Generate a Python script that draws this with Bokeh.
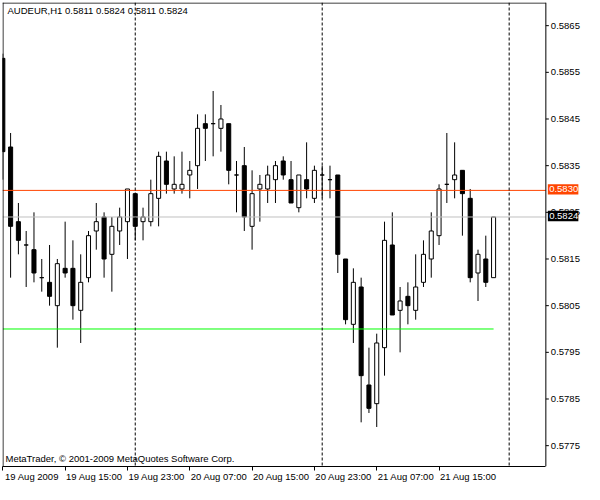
from bokeh.plotting import figure
from bokeh.models import (Range1d, FixedTicker, LinearAxis, Span, Label, ColumnDataSource)
from bokeh.embed import file_html
from bokeh.resources import INLINE
from bokeh.core.properties import value

# ---------------- data ----------------
chart_title = "AUDEUR,H1  0.5811 0.5824 0.5811 0.5824"
copyright_text = "MetaTrader, \u00a9 2001-2009 MetaQuotes Software Corp."

opens = [0.5858, 0.5839, 0.5823, 0.5818, 0.5817, 0.5811, 0.5810, 0.5805,
         0.5813, 0.5813, 0.5804, 0.5811, 0.5821, 0.5824, 0.5816, 0.5821,
         0.5823, 0.5829, 0.5823, 0.5823, 0.5828, 0.5836, 0.5830, 0.5830,
         0.5833, 0.5835, 0.5844, 0.5844, 0.5843, 0.5844, 0.5833, 0.5835,
         0.5822, 0.5830, 0.5830, 0.5832, 0.5836, 0.5832, 0.5826, 0.5832,
         0.5828, 0.5833, 0.5832, 0.5833, 0.5815, 0.5801, 0.5809, 0.5788,
         0.5784, 0.5796, 0.5818, 0.5804, 0.5807, 0.5804, 0.5810, 0.5815,
         0.5820, 0.5831, 0.5832, 0.5834, 0.5828, 0.5812, 0.5815, 0.5811]
highs = [0.5859, 0.5842, 0.5827, 0.5821, 0.5825, 0.5815, 0.5818, 0.5815,
         0.5823, 0.5819, 0.5816, 0.5821, 0.5827, 0.5825, 0.5824, 0.5826,
         0.5830, 0.5829, 0.5826, 0.5832, 0.5838, 0.5838, 0.5837, 0.5838,
         0.5836, 0.5846, 0.5846, 0.5851, 0.5848, 0.5844, 0.5836, 0.5839,
         0.5834, 0.5833, 0.5835, 0.5836, 0.5837, 0.5836, 0.5833, 0.5840,
         0.5835, 0.5835, 0.5835, 0.5833, 0.5815, 0.5813, 0.5811, 0.5796,
         0.5799, 0.5823, 0.5825, 0.5809, 0.5810, 0.5816, 0.5819, 0.5825,
         0.5831, 0.5842, 0.5840, 0.5834, 0.5830, 0.5817, 0.5820, 0.5824]
lows = [0.5832, 0.5811, 0.5816, 0.5809, 0.5810, 0.5808, 0.5805, 0.5796,
        0.5811, 0.5802, 0.5797, 0.5810, 0.5817, 0.5811, 0.5808, 0.5818,
        0.5815, 0.5819, 0.5819, 0.5822, 0.5822, 0.5829, 0.5829, 0.5829,
        0.5828, 0.5830, 0.5836, 0.5837, 0.5838, 0.5831, 0.5825, 0.5821,
        0.5817, 0.5823, 0.5827, 0.5827, 0.5832, 0.5827, 0.5825, 0.5828,
        0.5827, 0.5828, 0.5828, 0.5812, 0.5801, 0.5797, 0.5780, 0.5782,
        0.5779, 0.5790, 0.5803, 0.5795, 0.5801, 0.5802, 0.5809, 0.5811,
        0.5818, 0.5827, 0.5828, 0.5820, 0.5810, 0.5806, 0.5809, 0.5811]
closes = [0.5838, 0.5822, 0.5819, 0.5818, 0.5812, 0.5811, 0.5807, 0.5814,
          0.5812, 0.5805, 0.5810, 0.5820, 0.5823, 0.5815, 0.5822, 0.5824,
          0.5830, 0.5822, 0.5824, 0.5829, 0.5837, 0.5831, 0.5831, 0.5831,
          0.5834, 0.5843, 0.5843, 0.5844, 0.5845, 0.5834, 0.5833, 0.5824,
          0.5829, 0.5831, 0.5833, 0.5835, 0.5833, 0.5827, 0.5833, 0.5830,
          0.5834, 0.5833, 0.5832, 0.5816, 0.5802, 0.5810, 0.5790, 0.5783,
          0.5797, 0.5819, 0.5803, 0.5806, 0.5805, 0.5809, 0.5816, 0.5821,
          0.5830, 0.5831, 0.5833, 0.5829, 0.5811, 0.5816, 0.5810, 0.5824]

time_tick_bars = [0, 8, 16, 24, 32, 40, 48, 56]
time_tick_labels = ["19 Aug 2009", "19 Aug 15:00", "19 Aug 23:00", "20 Aug 07:00",
                    "20 Aug 15:00", "20 Aug 23:00", "21 Aug 07:00", "21 Aug 15:00"]
day_separator_bars = [17, 41, 65]
price_ticks = [0.5775, 0.5785, 0.5795, 0.5805, 0.5815, 0.5825,
               0.5835, 0.5845, 0.5855, 0.5865]
hline_price = 0.58297
bid_price = 0.5824
trend_price = 0.5800
trend_start_bar = 0
trend_end_bar = 63

# ---------------- layout / styles ----------------
FONT = "Liberation Sans"
FS = "9.5px"
W, H = 584, 484
BL, BT, BB = 2, 2, 18
FRAME_W = W - BL
FRAME_H = H - BT - BB
PX_PER_BAR = 7.79
XL = -0.04                       # left edge of chart area (bars)
XR = 69.71                       # price-scale line (bars)
X1 = XL + FRAME_W / PX_PER_BAR   # right edge of canvas (bars)
PX_PER_PRICE = 140000.0 / 3.0    # 14 px per 3 pips
Y1 = 0.5869964
Y0 = Y1 - FRAME_H / PX_PER_PRICE


def px_x(n):
    return n / PX_PER_BAR


def px_y(n):
    return n / PX_PER_PRICE


LABEL_OFFSET = 3.75   # bars: centre of MT4 left-aligned time label

bars = list(range(len(opens)))
body_top = [max(o, c) for o, c in zip(opens, closes)]
body_bot = [min(o, c) for o, c in zip(opens, closes)]
body_fill = ["white" if c >= o else "black" for o, c in zip(opens, closes)]
src = ColumnDataSource(dict(x=bars, o=opens, h=highs, l=lows, c=closes,
                            top=body_top, bot=body_bot, fill=body_fill))

p = figure(width=W, height=H, output_backend="svg", toolbar_location=None,
           x_range=Range1d(XL, X1), y_range=Range1d(Y0, Y1),
           x_axis_location=None, y_axis_location=None,
           min_border_left=BL, min_border_top=BT, min_border_right=0,
           min_border_bottom=BB)
p.background_fill_color = "white"
p.border_fill_color = "white"
p.outline_line_color = None
p.xgrid.visible = False
p.ygrid.visible = False

# bottom time axis: minor ticks at the bars, labels left-aligned to them (MT4 style)
label_pos = [b + LABEL_OFFSET for b in time_tick_bars]
time_axis = LinearAxis(ticker=FixedTicker(ticks=label_pos, minor_ticks=time_tick_bars),
                       bounds=(XL, XR),
                       major_label_overrides={pos: lab for pos, lab in zip(label_pos, time_tick_labels)},
                       major_tick_out=4, major_tick_in=0, major_tick_line_color=None,
                       minor_tick_out=4, minor_tick_in=0, minor_tick_line_color="black",
                       axis_line_color="black", axis_line_width=1,
                       major_label_standoff=0,
                       major_label_text_font=FONT, major_label_text_font_size=FS,
                       major_label_text_color="black")
p.add_layout(time_axis, "below")

# candles
p.segment(x0="x", y0="l", x1="x", y1="h", source=src, line_color="black", line_width=1)
p.vbar(x="x", width=0.52, top="top", bottom="bot", source=src,
       fill_color="fill", line_color="black", line_width=1)

# chart objects
for s in day_separator_bars:
    p.add_layout(Span(location=s, dimension="height", line_color="black",
                      line_width=1, line_dash="3 2"))
p.segment(x0=[XL], y0=[hline_price], x1=[XR], y1=[hline_price],
          line_color="#FF4500", line_width=1)
p.segment(x0=[XL], y0=[bid_price], x1=[XR], y1=[bid_price],
          line_color="#C0C0C0", line_width=1)
p.segment(x0=[trend_start_bar], y0=[trend_price], x1=[trend_end_bar], y1=[trend_price],
          line_color="#00FF00", line_width=1)

# chart border (left, top) and price-scale line
p.segment(x0=[XL + px_x(0.5)], y0=[Y0], x1=[XL + px_x(0.5)], y1=[Y1],
          line_color="black", line_width=1)
p.segment(x0=[XL], y0=[Y1 - px_y(0.5)], x1=[XR], y1=[Y1 - px_y(0.5)],
          line_color="black", line_width=1)
p.segment(x0=[XR], y0=[Y0], x1=[XR], y1=[Y1], line_color="black", line_width=1)

# price scale ticks + labels
p.segment(x0=[XR] * len(price_ticks), y0=price_ticks,
          x1=[XR + px_x(3)] * len(price_ticks), y1=price_ticks,
          line_color="black", line_width=1)
p.text(x=[XR + px_x(5)] * len(price_ticks), y=price_ticks,
       text=["%.4f" % t for t in price_ticks],
       text_font=value(FONT), text_font_size=value(FS), text_color="black",
       text_baseline="middle", text_align="left")

# price labels of the horizontal line and bid line
tag_prices = [hline_price, bid_price]
tag_colors = ["#FF4500", "black"]
tag_mid = [t + px_y(1) for t in tag_prices]
p.quad(left=[XR + px_x(2.0)] * 2, right=[XR + px_x(32.5)] * 2,
       bottom=[t - px_y(5.2) for t in tag_mid], top=[t + px_y(5.2) for t in tag_mid],
       fill_color=tag_colors, line_color=None)
p.text(x=[XR + px_x(3.3)] * 2, y=tag_mid, text=["%.4f" % t for t in tag_prices],
       text_font=value(FONT), text_font_size=value(FS), text_color="white",
       text_baseline="middle", text_align="left")

# texts
p.add_layout(Label(x=5, y=FRAME_H - 8.2, x_units="screen", y_units="screen",
                   text=chart_title, text_font=FONT, text_font_size=FS,
                   text_color="black", text_baseline="middle", text_align="left"))
p.add_layout(Label(x=3, y=8.1, x_units="screen", y_units="screen",
                   text=copyright_text, text_font=FONT, text_font_size=FS,
                   text_color="black", text_baseline="middle", text_align="left"))

open("out.html", "w").write(file_html(p, INLINE))
